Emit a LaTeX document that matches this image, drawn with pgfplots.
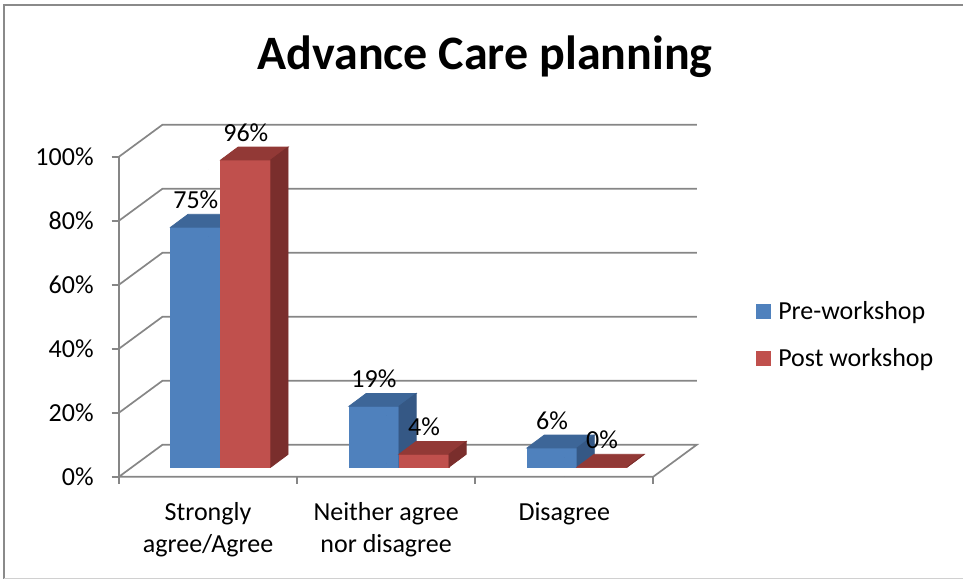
\documentclass[border=0pt]{standalone}
\usepackage{pgfplots}
\usepackage{pgfplotstable}
\pgfplotsset{compat=1.18}
\usepackage{fontspec}
\setmainfont{Carlito}
\definecolor{bfront}{HTML}{4F81BD}
\definecolor{btop}{HTML}{3D6698}
\definecolor{bside}{HTML}{355885}
\definecolor{rfront}{HTML}{C0504D}
\definecolor{rtop}{HTML}{923936}
\definecolor{rside}{HTML}{7A2E2C}
\definecolor{gridc}{HTML}{868686}
\definecolor{framec}{HTML}{8A8A8A}
\definecolor{framel}{HTML}{D0D0D0}

\pgfplotstableread{
x pre post
0.5 75 96
1.5 19 4
2.5 6 0
}\datatable

\pgfplotsset{
  bar3d/.style n args={5}{
    scatter, only marks, mark=square*, mark size=0pt, forget plot,
    point meta=y,
    visualization depends on={y \as \barv},
    scatter/@pre marker code/.code={%
      \pgfmathsetlengthmacro\hh{\barv*1.6pt}%
      \fill[#3] (#1,4.8pt-\hh) rectangle (#2,4.8pt);
      \fill[#4] (#1,4.8pt) -- (#2,4.8pt) -- (#2+8.6pt,11.2pt) -- (#1+8.6pt,11.2pt) -- cycle;
      \fill[#5] (#2,4.8pt-\hh) -- (#2+8.6pt,11.2pt-\hh) -- (#2+8.6pt,11.2pt) -- (#2,4.8pt) -- cycle;
    },
    scatter/@post marker code/.code={},
  },
  barlabel/.style={
    draw=none, mark=none, forget plot, point meta=y,
    nodes near coords={\pgfmathprintnumber[assume math mode=true,fixed,precision=0]{\pgfplotspointmeta}\%},
    every node near coord/.append style={anchor=base, inner sep=0pt, xshift=#1, yshift=14pt, font=\fontsize{13}{16}\selectfont, text=black},
  },
}

\begin{document}
\begin{tikzpicture}
\path[use as bounding box] (-59.5pt,-51.65pt) rectangle (422pt,238.35pt);
\begin{axis}[
  at={(0pt,0pt)}, anchor=south west,
  x=89.05pt, y=1.6pt,
  xmin=0, xmax=3.2443, ymin=0, ymax=110,
  clip=false, enlargelimits=false,
  axis x line=bottom, axis y line=left,
  axis line style={draw=none,-},
  ytick={0,20,40,60,80,100},
  yticklabels={0\%,20\%,40\%,60\%,80\%,100\%},
  xtick={0.5,1.5,2.5},
  xticklabels={{Strongly\\agree/Agree},{Neither agree\\nor disagree},{Disagree}},
  tick align=outside,
  major tick length=3.65pt,
  ytick style={draw=gridc, line width=0.85pt},
  xtick style={draw=none},
  tick label style={font=\fontsize{13}{16}\selectfont},
  xticklabel style={align=center, anchor=north, inner sep=0pt, yshift=-9.2pt},
  yticklabel style={anchor=east, inner sep=0pt, xshift=-8.85pt},
  title={Advance Care planning},
  title style={at={(axis cs:2.055,127.1)}, anchor=base, yshift=-6pt, inner sep=0pt, font=\fontsize{24}{29}\selectfont\bfseries},
  legend style={draw=none, fill=none, at={(axis cs:3.5766,54.9)}, anchor=north west, inner sep=0pt, outer sep=0pt, row sep=13pt, column sep=3.8pt, font=\fontsize{13}{16}\selectfont, nodes={inner sep=0pt}},
  legend cell align=left,
  legend image code/.code={\fill[#1, draw=none] (0pt,-3.67pt) rectangle (7.35pt,3.67pt);},
]
% walls and gridlines
\addplot[gridc, line width=0.85pt, forget plot] coordinates {(0,100) (0.2443,110) (3.2443,110)};
\addplot[gridc, line width=0.85pt, forget plot] coordinates {(0,80) (0.2443,90) (3.2443,90)};
\addplot[gridc, line width=0.85pt, forget plot] coordinates {(0,60) (0.2443,70) (3.2443,70)};
\addplot[gridc, line width=0.85pt, forget plot] coordinates {(0,40) (0.2443,50) (3.2443,50)};
\addplot[gridc, line width=0.85pt, forget plot] coordinates {(0,20) (0.2443,30) (3.2443,30)};
\addplot[gridc, line width=0.85pt, forget plot] coordinates {(0,0) (0.2443,10) (3.2443,10) (3,0) (0,0) (0,100)};
\draw[gridc, line width=0.85pt] (axis cs:0,0) -- ++(0pt,-3.65pt);
\draw[gridc, line width=0.85pt] (axis cs:1,0) -- ++(0pt,-3.65pt);
\draw[gridc, line width=0.85pt] (axis cs:2,0) -- ++(0pt,-3.65pt);
\draw[gridc, line width=0.85pt] (axis cs:3,0) -- ++(0pt,-3.65pt);
% bars
\addplot[bar3d={-18.6pt}{6.4pt}{bfront}{btop}{bside}] table[x=x,y=pre]{\datatable};
\addplot[bar3d={6.4pt}{31.4pt}{rfront}{rtop}{rside}] table[x=x,y=post]{\datatable};
% labels
\addplot[barlabel=-6.1pt] table[x=x,y=pre]{\datatable};
\addplot[barlabel=18.9pt] table[x=x,y=post]{\datatable};
\addlegendimage{fill=bfront, draw=none}
\addlegendentry{Pre-workshop}
\addlegendimage{fill=rfront, draw=none}
\addlegendentry{Post workshop}
\end{axis}
\draw[framec, line width=1pt] (-57.5pt,-50.9pt) -- (-57.5pt,236.1pt) -- (422pt,236.1pt);
\draw[framel, line width=0.8pt] (-57.5pt,-50.9pt) -- (422pt,-50.9pt);
\end{tikzpicture}
\end{document}
